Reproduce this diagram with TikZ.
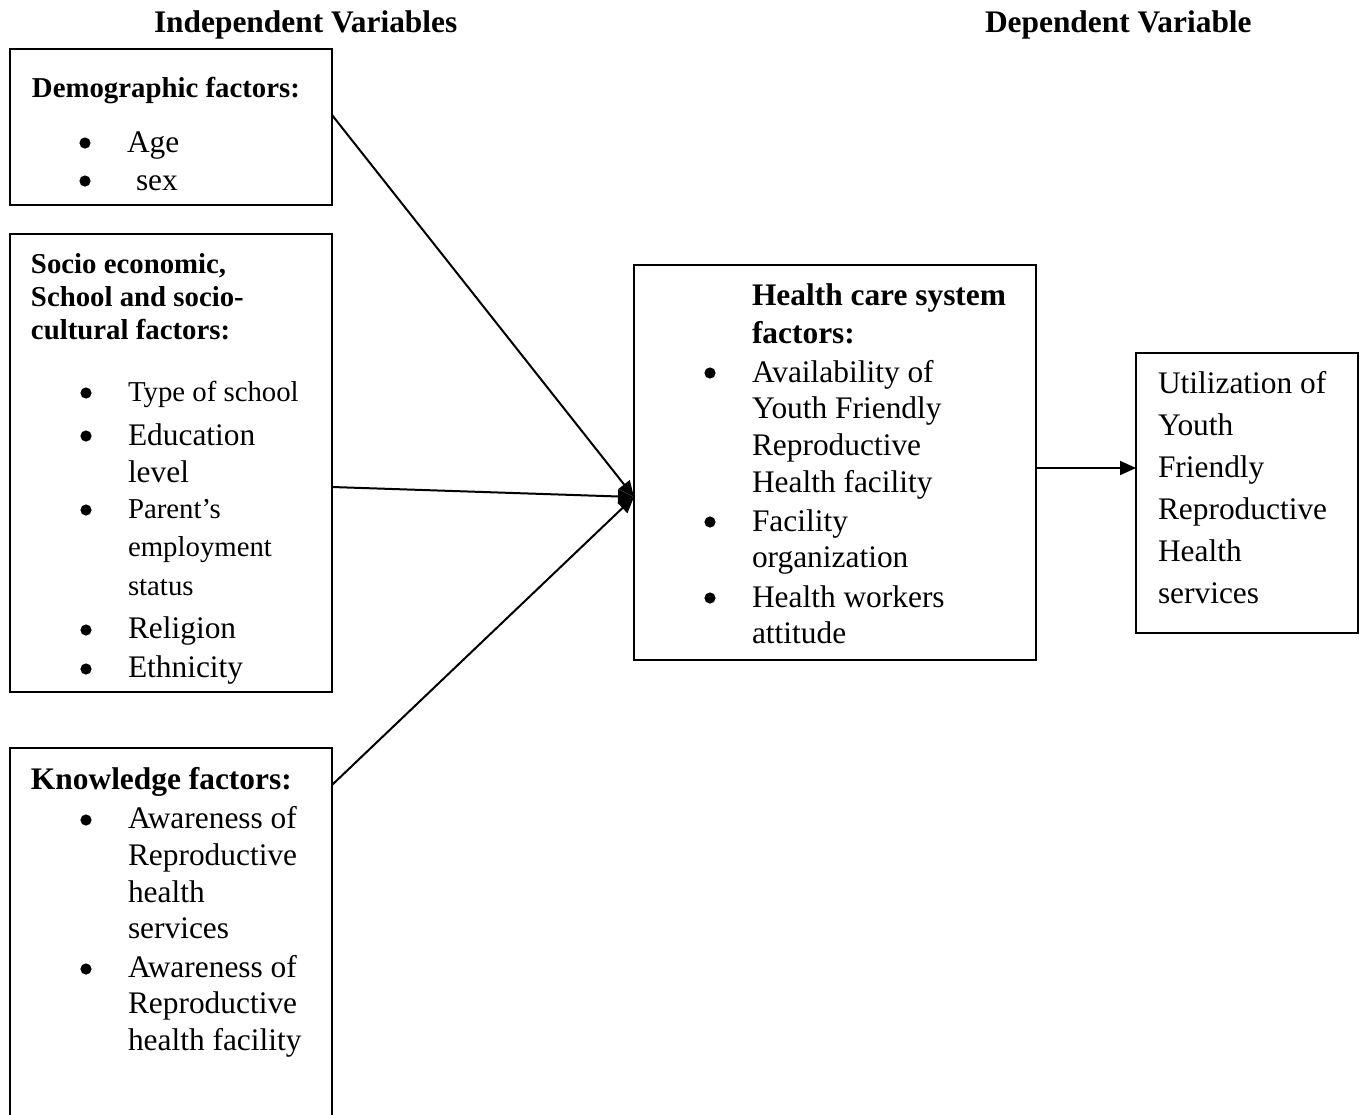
\documentclass[tikz,border=0pt]{standalone}
\usepackage{fontspec}
\setmainfont{Liberation Serif}
\usetikzlibrary{arrows.meta,calc}
\tikzset{
  box/.style={draw, line width=1pt, rectangle, inner sep=0pt, outer sep=0pt, anchor=north west},
  lbl/.style={inner sep=0pt, outer sep=0pt, anchor=base west, font=\fontsize{15.7}{18}\selectfont},
  lbls/.style={lbl, font=\fontsize{14.4}{17}\selectfont},
  hd/.style={lbl, font=\fontsize{15.7}{18}\selectfont\bfseries},
  hds/.style={lbl, font=\fontsize{14.4}{17}\selectfont\bfseries},
  dot/.style={circle, fill, inner sep=0pt, minimum size=5.6pt},
  conn/.style={line width=1pt, -{Triangle[length=8pt,width=7pt]}}
}
\begin{document}
\begin{tikzpicture}[x=0.5pt,y=-0.5pt]
\useasboundingbox (0,0) rectangle (1362,1115);
\clip (0,0) rectangle (1362,1115);
% titles
\node[hd] (tindep) at (154,32) {Independent Variables};
\node[hd] (tdep) at (985,32) {Dependent Variable};
% boxes
\node[box, minimum width=161pt, minimum height=78pt] (demo) at (10,49) {};
\node[box, minimum width=161pt, minimum height=229pt] (socio) at (10,234) {};
\node[box, minimum width=161pt, minimum height=191pt] (know) at (10,748) {};
\node[box, minimum width=201pt, minimum height=197.5pt] (hc) at (634,265) {};
\node[box, minimum width=111pt, minimum height=140pt] (util) at (1136,353) {};
% demographic
\node[hds] (d0) at (32,97) {Demographic factors:};
\node[dot] (db1) at (85,143) {};
\node[lbl] (d1) at (127,152) {Age};
\node[dot] (db2) at (85,181) {};
\node[lbl] (d2) at (136,190) {sex};
% socio
\node[hds] (s0) at (31,273) {Socio economic,};
\node[hds] (s0b) at (31,306) {School and socio-};
\node[hds] (s0c) at (31,339) {cultural factors:};
\node[dot] (sb1) at (86,393) {};
\node[lbls] (s1) at (128,401) {Type of school};
\node[dot] (sb2) at (86,436) {};
\node[lbl] (s2) at (128,445) {Education};
\node[lbl] (s2b) at (128,482) {level};
\node[dot] (sb3) at (86,510) {};
\node[lbls] (s3) at (128,518) {Parent’s};
\node[lbls] (s3b) at (128,556) {employment};
\node[lbls] (s3c) at (128,595) {status};
\node[dot] (sb4) at (86,630) {};
\node[lbl] (s4) at (128,638) {Religion};
\node[dot] (sb5) at (86,669) {};
\node[lbl] (s5) at (128,677) {Ethnicity};
% knowledge
\node[hd] (k0) at (31,789) {Knowledge factors:};
\node[dot] (kb1) at (86,820) {};
\node[lbl] (k1) at (128,828) {Awareness of};
\node[lbl] (k1b) at (128,865) {Reproductive};
\node[lbl] (k1c) at (128,902) {health};
\node[lbl] (k1d) at (128,938) {services};
\node[dot] (kb2) at (86,969) {};
\node[lbl] (k2) at (128,977) {Awareness of};
\node[lbl] (k2b) at (128,1013) {Reproductive};
\node[lbl] (k2c) at (128,1050) {health facility};
% health care system
\node[hd] (h0) at (752,305) {Health care system};
\node[hd] (h0b) at (752,343) {factors:};
\node[dot] (hb1) at (710,373) {};
\node[lbl] (h1) at (752,382) {Availability of};
\node[lbl] (h1b) at (752,418) {Youth Friendly};
\node[lbl] (h1c) at (752,455) {Reproductive};
\node[lbl] (h1d) at (752,492) {Health facility};
\node[dot] (hb2) at (710,522) {};
\node[lbl] (h2) at (752,531) {Facility};
\node[lbl] (h2b) at (752,567) {organization};
\node[dot] (hb3) at (710,598) {};
\node[lbl] (h3) at (752,607) {Health workers};
\node[lbl] (h3b) at (752,643) {attitude};
% utilization
\node[lbl] (u1) at (1158,393) {Utilization of};
\node[lbl] (u2) at (1158,435) {Youth};
\node[lbl] (u3) at (1158,477) {Friendly};
\node[lbl] (u4) at (1158,519) {Reproductive};
\node[lbl] (u5) at (1158,561) {Health};
\node[lbl] (u6) at (1158,603) {services};
% connectors
\coordinate (hub) at ($(hc.north west)+(0,232)$);
\draw[conn] ($(demo.north east)+(0,66)$) -- (hub);
\draw[conn] ($(socio.north east)+(0,253)$) -- (hub);
\draw[conn] ($(know.north east)+(0,37)$) -- (hub);
\draw[conn] ($(hc.north east)+(0,203)$) -- ($(util.north west)+(0,115)$);
\end{tikzpicture}
\end{document}
